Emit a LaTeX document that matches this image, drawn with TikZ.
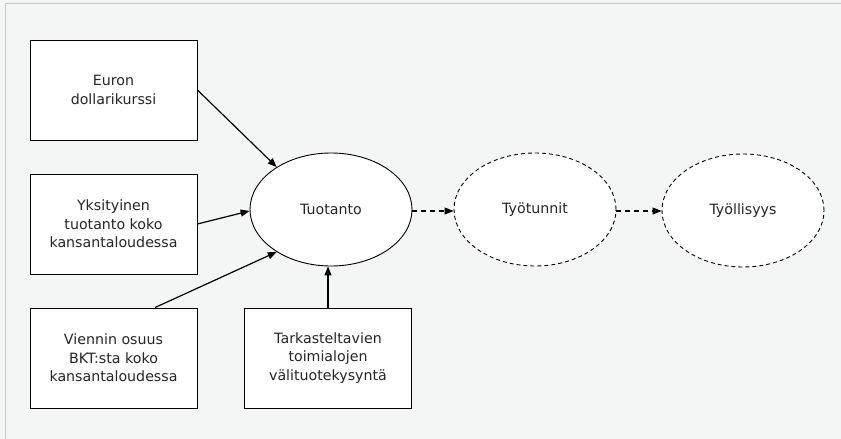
\documentclass[tikz,border=0pt]{standalone}
\usepackage{fontspec}
\setmainfont{DejaVu Sans}
\usetikzlibrary{shapes.geometric,arrows.meta}
\definecolor{bg}{HTML}{F4F6F5}
\definecolor{frame}{HTML}{C8C8C8}
\begin{document}
\begin{tikzpicture}[x=1pt,y=-1pt,
  txt/.style={font=\fontsize{14.2}{18.5}\selectfont, align=center, text=black!85},
  box/.style={draw=black, fill=white, line width=0.9pt, minimum width=167pt, minimum height=100pt, inner sep=0pt, txt},
  ell/.style={ellipse, draw=black, fill=white, line width=0.9pt, minimum width=162pt, minimum height=113pt, inner sep=0pt, txt},
  dell/.style={ell, dashed, dash pattern=on 4pt off 3pt},
  arr/.style={-{Triangle[length=9pt,width=7pt]}, line width=1.2pt},
  darr/.style={arr, dash pattern=on 5pt off 4pt}
]
\useasboundingbox (0,0) rectangle (841,439);
\fill[bg] (0,0) rectangle (841,439);
\draw[frame, line width=1pt] (5,439) -- (5,3) -- (841,3);

\node[box] (b1) at (113.5,90) {Euron\\dollarikurssi};
\node[box] (b2) at (113.5,224) {Yksityinen\\tuotanto koko\\kansantaloudessa};
\node[box] (b3) at (113.5,358) {Viennin osuus\\BKT:sta koko\\kansantaloudessa};
\node[box] (b4) at (328,358) {Tarkasteltavien\\toimialojen\\välituotekysyntä};

\node[ell] (e1) at (331,209.5) {Tuotanto};
\node[dell] (e2) at (535,209.5) {Työtunnit};
\node[dell] (e3) at (743,210.5) {Työllisyys};

\draw[arr] (b1.east) -- (e1.142.6);
\draw[arr] (b2.east) -- (e1.181.5);
\draw[arr] (b3.north -| 155,0) -- (e1.218.3);
\draw[arr] (b4.north) -- (e1.south -| b4.north);
\draw[darr] (e1.east |- 0,211) -- (e2.west |- 0,211);
\draw[darr] (e2.east |- 0,211) -- (e3.west |- 0,211);
\end{tikzpicture}
\end{document}
